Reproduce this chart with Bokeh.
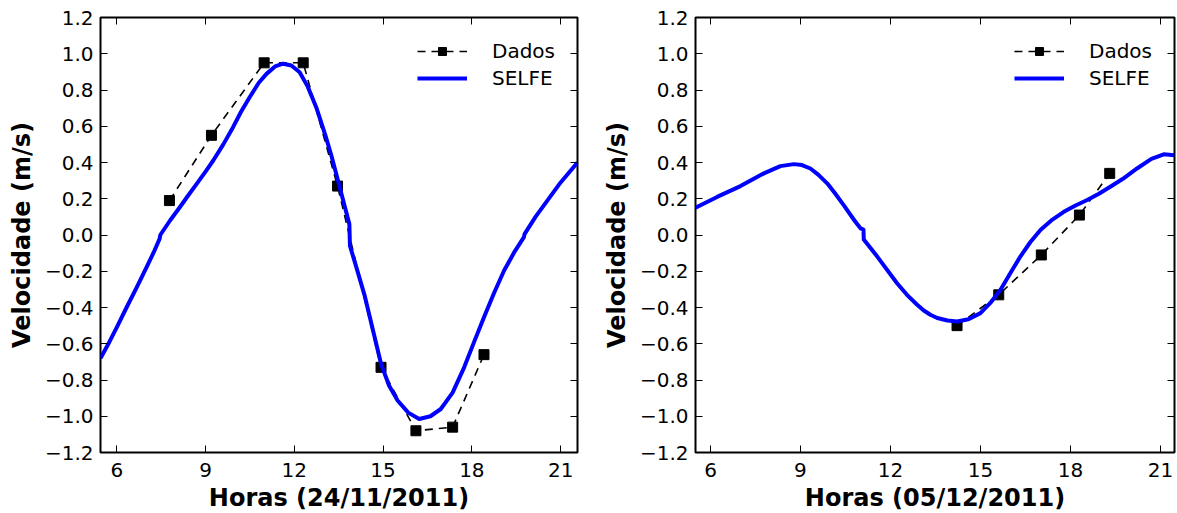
from bokeh.plotting import figure
from bokeh.layouts import row
from bokeh.models import Range1d, FixedTicker, LinearAxis, Legend, LegendItem
from bokeh.embed import file_html
from bokeh.resources import INLINE

# ---------------- data ----------------
x_ticks = [6, 9, 12, 15, 18, 21]
y_ticks = [-1.2, -1.0, -0.8, -0.6, -0.4, -0.2, 0.0, 0.2, 0.4, 0.6, 0.8, 1.0, 1.2]
y_tick_labels = ["\u22121.2", "\u22121.0", "\u22120.8", "\u22120.6", "\u22120.4", "\u22120.2",
                 "0.0", "0.2", "0.4", "0.6", "0.8", "1.0", "1.2"]

# 24/11/2011
dados1_h = [7.78, 9.2, 10.98, 12.3, 13.46, 14.93, 16.11, 17.35, 18.41]
dados1_v = [0.19, 0.55, 0.95, 0.95, 0.27, -0.73, -1.08, -1.06, -0.66]
selfe1_h = [5.45, 5.75, 6.0, 6.33, 6.67, 7.0, 7.25, 7.45, 7.47, 7.8, 8.13, 8.4, 8.7, 9.0,
            9.26, 9.6, 9.93, 10.2, 10.49, 10.8, 11.06, 11.35, 11.62, 11.9, 12.18, 12.45,
            12.74, 13.05, 13.25, 13.46, 13.7, 13.86, 13.88, 14.1, 14.37, 14.65, 14.93, 15.2,
            15.49, 15.85, 16.22, 16.6, 16.95, 17.35, 17.74, 18.1, 18.41, 18.75, 19.09, 19.45,
            19.76, 19.78, 20.15, 20.55, 21.0, 21.57]
selfe1_v = [-0.68, -0.59, -0.51, -0.40, -0.29, -0.18, -0.095, -0.02, 0.0, 0.08, 0.153, 0.215,
            0.282, 0.35, 0.411, 0.50, 0.595, 0.68, 0.76, 0.84, 0.889, 0.93, 0.945, 0.935, 0.898,
            0.82, 0.705, 0.55, 0.44, 0.31, 0.16, 0.06, -0.06, -0.18, -0.33, -0.52, -0.71,
            -0.83, -0.913, -0.98, -1.015, -1.0, -0.96, -0.87, -0.73, -0.58, -0.454, -0.32,
            -0.196, -0.09, -0.012, 0.005, 0.10, 0.19, 0.29, 0.40]

# 05/12/2011
dados2_h = [14.22, 15.61, 17.03, 18.3, 19.31]
dados2_v = [-0.50, -0.33, -0.11, 0.11, 0.34]
selfe2_h = [5.5, 6.22, 7.0, 7.78, 8.33, 8.78, 9.05, 9.33, 9.6, 9.89, 10.15, 10.44, 10.8, 11.0,
            11.1, 11.11, 11.56, 12.22, 12.55, 12.89, 13.1, 13.33, 13.56, 13.9, 14.22, 14.6,
            15.0, 15.33, 15.67, 16.0, 16.33, 16.66, 17.0, 17.4, 17.78, 18.17, 18.56, 18.95,
            19.33, 19.75, 20.22, 20.7, 21.11, 21.47]
selfe2_v = [0.15, 0.21, 0.27, 0.34, 0.38, 0.391, 0.386, 0.367, 0.332, 0.285, 0.23, 0.165,
            0.08, 0.037, 0.03, -0.025, -0.119, -0.266, -0.33, -0.385, -0.415, -0.44, -0.458,
            -0.472, -0.477, -0.465, -0.431, -0.375, -0.302, -0.21, -0.119, -0.04, 0.028,
            0.085, 0.128, 0.163, 0.193, 0.228, 0.266, 0.31, 0.367, 0.42, 0.445, 0.44]

FONT = "DejaVu Sans"


def make_plot(xr, dh, dv, sh, sv, xlabel, bl, br, fw):
    p = figure(frame_width=fw, frame_height=435,
               x_range=Range1d(*xr), y_range=Range1d(-1.2, 1.2),
               output_backend="svg", toolbar_location=None,
               min_border_left=bl, min_border_right=br,
               min_border_top=17, min_border_bottom=40)
    p.xgrid.visible = False
    p.ygrid.visible = False
    p.outline_line_color = "black"
    p.outline_line_width = 2
    p.background_fill_color = "white"
    p.border_fill_color = "white"

    xax = p.xaxis[0]
    yax = p.yaxis[0]
    xax.ticker = FixedTicker(ticks=x_ticks)
    yax.ticker = FixedTicker(ticks=y_ticks)
    yax.major_label_overrides = {t: l for t, l in zip(y_ticks, y_tick_labels)}
    for ax in (xax, yax):
        ax.axis_line_color = None
        ax.major_tick_in = 7
        ax.major_tick_out = 0
        ax.minor_tick_in = 0
        ax.minor_tick_out = 0
        ax.major_tick_line_color = "black"
        ax.major_label_text_font = FONT
        ax.major_label_text_font_size = "20px"
        ax.major_label_text_color = "black"
        ax.axis_label_text_font = FONT
        ax.axis_label_text_font_size = "24px"
        ax.axis_label_text_font_style = "bold"
        ax.axis_label_text_color = "black"
    xax.axis_label = xlabel
    yax.axis_label = "Velocidade (m/s)"
    xax.major_label_standoff = 10
    xax.axis_label_standoff = 4
    yax.major_label_standoff = 7
    yax.axis_label_standoff = 6

    top = LinearAxis(ticker=FixedTicker(ticks=x_ticks))
    top.major_label_overrides = {t: "" for t in x_ticks}
    right = LinearAxis(ticker=FixedTicker(ticks=y_ticks))
    right.major_label_overrides = {t: "" for t in y_ticks}
    for ax in (top, right):
        ax.axis_line_color = None
        ax.major_tick_in = 7
        ax.major_tick_out = 0
        ax.minor_tick_in = 0
        ax.minor_tick_out = 0
        ax.major_tick_line_color = "black"
        ax.major_label_standoff = 0
    p.add_layout(top, "above")
    p.add_layout(right, "right")

    dl = p.line(dh, dv, line_color="black", line_width=1.6, line_dash="8 6")
    ds = p.scatter(dh, dv, marker="square", size=10, fill_color="black", line_color="black")
    sl = p.line(sh, sv, line_color="#0000ff", line_width=4, line_join="round")

    leg = Legend(items=[LegendItem(label="Dados", renderers=[dl, ds]),
                        LegendItem(label="SELFE", renderers=[sl])],
                 location="top_right", border_line_color=None, background_fill_alpha=0,
                 label_text_font=FONT, label_text_font_size="20px", label_text_color="black",
                 glyph_width=50, glyph_height=20, label_standoff=25,
                 spacing=3, padding=6, margin=22)
    p.add_layout(leg)
    return p


p1 = make_plot((5.45, 21.57), dados1_h, dados1_v, selfe1_h, selfe1_v,
               "Horas (24/11/2011)", 100, 13, 477)
p2 = make_plot((5.5, 21.47), dados2_h, dados2_v, selfe2_h, selfe2_v,
               "Horas (05/12/2011)", 105, 3, 479)

layout = row(p1, p2)
open("out.html", "w").write(file_html(layout, INLINE))
